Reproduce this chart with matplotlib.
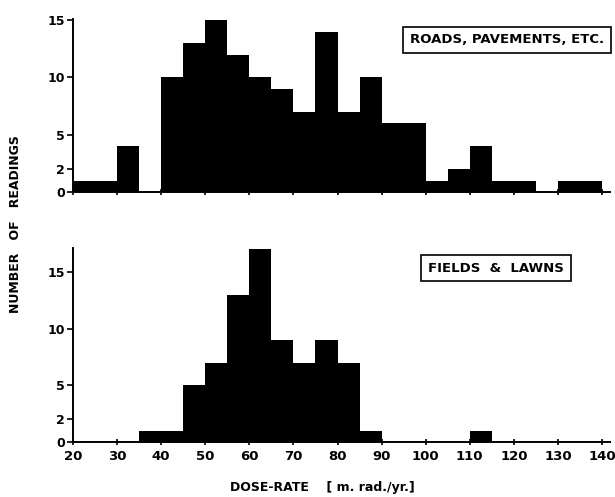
import numpy as np
import matplotlib
matplotlib.use("Agg")
import matplotlib.pyplot as plt

# ---- data: histogram counts per 5 m.rad/yr bin ----
bin_edges = np.arange(20, 145, 5)  # 20, 25, ..., 140

roads_counts = [1, 1, 4, 0, 10, 13, 15, 12, 10, 9, 7, 14,
                7, 10, 6, 6, 1, 2, 4, 1, 1, 0, 1, 1]
fields_counts = [0, 0, 0, 1, 1, 5, 7, 13, 17, 9, 7, 9,
                 7, 1, 0, 0, 0, 0, 1, 0, 0, 0, 0, 0]

y_ticks = [0, 2, 5, 10, 15]
x_ticks = list(range(20, 150, 10))

panel_labels = ["ROADS, PAVEMENTS, ETC.", "FIELDS  &  LAWNS"]

plt.rcParams["font.family"] = ["DejaVu Sans"]
plt.rcParams["font.weight"] = "bold"

fig = plt.figure(figsize=(6.15, 4.97), dpi=100)

ax_top = fig.add_axes([73 / 615, 1 - 192 / 497, 537 / 615, 173 / 497])
ax_bot = fig.add_axes([73 / 615, 1 - 442 / 497, 537 / 615, 194 / 497])


def draw_panel(ax, counts, ymax, label, box_xy, show_xlabels):
    ax.stairs(counts, bin_edges, fill=True, color="black", baseline=0)
    ax.set_xlim(20, 141.8)
    ax.set_ylim(0, ymax)
    ax.spines["top"].set_visible(False)
    ax.spines["right"].set_visible(False)
    for s in ("left", "bottom"):
        ax.spines[s].set_linewidth(1.4)
    ax.set_yticks(y_ticks)
    ax.set_yticklabels([str(v) for v in y_ticks], fontsize=9, fontweight="bold")
    ax.set_xticks(x_ticks)
    ax.tick_params(axis="y", direction="out", length=4, width=1.2, pad=2)
    ax.tick_params(axis="x", direction="inout", length=5, width=1.2, pad=3)
    if show_xlabels:
        ax.set_xticklabels([str(v) for v in x_ticks], fontsize=9.5, fontweight="bold")
    else:
        ax.set_xticklabels([])
    ax.text(box_xy[0], box_xy[1], label, transform=ax.transAxes,
            fontsize=9.5, fontweight="bold", ha="center", va="center",
            bbox=dict(boxstyle="square,pad=0.5", facecolor="white",
                      edgecolor="black", linewidth=1.2))


draw_panel(ax_top, roads_counts, 15.1, panel_labels[0],
           ((507 - 73) / 537, (192 - 40) / 173), False)
draw_panel(ax_bot, fields_counts, 17.1, panel_labels[1],
           ((496 - 73) / 537, (442 - 268) / 194), True)

fig.text(16 / 615, 1 - 224 / 497, "NUMBER   OF   READINGS", rotation=90,
         fontsize=9, fontweight="bold", ha="center", va="center")
fig.text(322 / 615, 1 - 487 / 497, "DOSE-RATE    [ m. rad./yr.]",
         fontsize=9, fontweight="bold", ha="center", va="center")

fig.savefig("out.png", dpi=100)
